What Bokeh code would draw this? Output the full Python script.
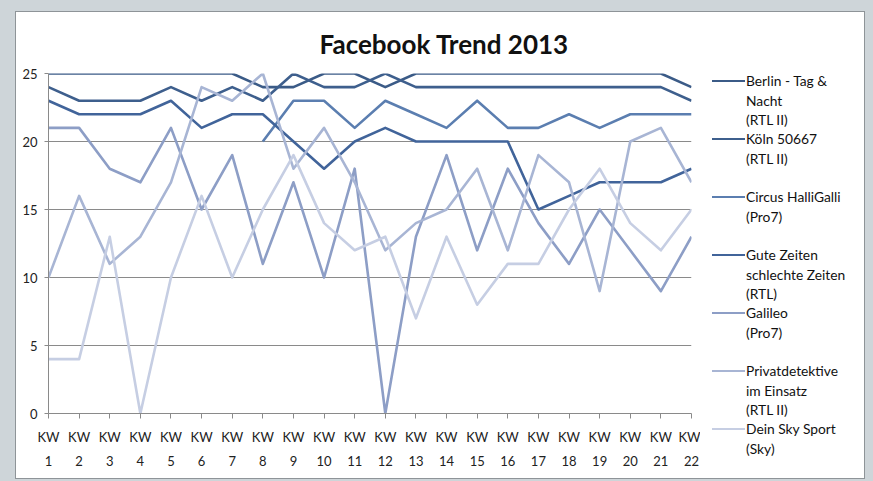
import numpy as np
from bokeh.plotting import figure
from bokeh.models import Range1d, FixedTicker, LinearAxis, Div
from bokeh.layouts import row
from bokeh.embed import file_html
from bokeh.resources import INLINE

# ---------------- data ----------------
weeks = list(range(1, 23))
week_numbers = [str(w) for w in weeks]
week_prefix = "KW"
y_ticks = [0, 5, 10, 15, 20, 25]
nan = float("nan")

berlin = [25, 25, 25, 25, 25, 25, 25, 24, 24, 25, 25, 24, 25, 25, 25, 25, 25, 25, 25, 25, 25, 24]
koeln = [24, 23, 23, 23, 24, 23, 24, 23, 25, 24, 24, 25, 24, 24, 24, 24, 24, 24, 24, 24, 24, 23]
circus = [nan, nan, nan, nan, nan, nan, nan, 20, 23, 23, 21, 23, 22, 21, 23, 21, 21, 22, 21, 22, 22, 22]
gzsz = [23, 22, 22, 22, 23, 21, 22, 22, 20, 18, 20, 21, 20, 20, 20, 20, 15, 16, 17, 17, 17, 18]
galileo = [21, 21, 18, 17, 21, 15, 19, 11, 17, 10, 18, 0, 13, 19, 12, 18, 14, 11, 15, 12, 9, 13]
privat = [10, 16, 11, 13, 17, 24, 23, 25, 18, 21, 17, 12, 14, 15, 18, 12, 19, 17, 9, 20, 21, 17]
sky = [4, 4, 13, 0, 10, 16, 10, 15, 19, 14, 12, 13, 7, 13, 8, 11, 11, 15, 18, 14, 12, 15]

series = [berlin, koeln, circus, gzsz, galileo, privat, sky]
legend_texts = [
    ["Berlin - Tag &", "Nacht", "(RTL II)"],
    ["Köln 50667", "(RTL II)"],
    ["Circus HalliGalli", "(Pro7)"],
    ["Gute Zeiten", "schlechte Zeiten", "(RTL)"],
    ["Galileo", "(Pro7)"],
    ["Privatdetektive", "im Einsatz", "(RTL II)"],
    ["Dein Sky Sport", "(Sky)"],
]
title_text = "Facebook Trend 2013"

# ---------------- style ----------------
colors = ["#3b5b87", "#3e5f8d", "#5b7eb0", "#41649a", "#8d9ec6", "#a8b5d4", "#c6cee3"]
FONT = "Lato"
AXIS_GRAY = "#8a8a8a"

# page geometry (body margin is 0 in the bokeh template)
FIG_X0, FIG_Y0 = 16, 12
FRAME_L, FRAME_R, FRAME_T, FRAME_B = 48, 691, 73, 413
SPLIT = 700
RIGHT = 864
H = 466

main_w = SPLIT - FIG_X0
p = figure(width=main_w, height=H, output_backend="svg", toolbar_location=None,
           x_range=Range1d(1, 22), y_range=Range1d(0, 25),
           min_border_left=FRAME_L - FIG_X0, min_border_right=SPLIT - FRAME_R,
           min_border_top=FRAME_T - FIG_Y0, min_border_bottom=H - (FRAME_B - FIG_Y0))
p.background_fill_color = "white"
p.border_fill_color = "white"
p.outline_line_color = None
p.xgrid.grid_line_color = None
p.ygrid.grid_line_color = AXIS_GRAY
p.ygrid.ticker = FixedTicker(ticks=y_ticks)

for vals, col in zip(series, colors):
    p.line(weeks, vals, line_color=col, line_width=2.6, line_join="round")

# title
p.title.text = title_text
p.title.align = "left"
p.title.offset = 319 - FRAME_L
p.title.standoff = 27
p.title.text_font = FONT
p.title.text_font_style = "bold"
p.title.text_font_size = "26px"
p.title.text_color = "#111111"

# y axis
p.yaxis.ticker = FixedTicker(ticks=y_ticks)
p.yaxis.axis_line_color = AXIS_GRAY
p.yaxis.major_tick_line_color = AXIS_GRAY
p.yaxis.major_tick_out = 4
p.yaxis.major_tick_in = 0
p.yaxis.minor_tick_line_color = None
p.yaxis.major_label_standoff = 7
p.yaxis.major_label_text_font = FONT
p.yaxis.major_label_text_font_size = "13px"
p.yaxis.major_label_text_color = "#222222"

# x axis: "KW" row
xa = p.xaxis[0]
xa.ticker = FixedTicker(ticks=weeks)
xa.major_label_overrides = {w: week_prefix for w in weeks}
xa.axis_line_color = AXIS_GRAY
xa.major_tick_line_color = AXIS_GRAY
xa.major_tick_out = 5
xa.major_tick_in = 0
xa.minor_tick_line_color = None
xa.major_label_standoff = 10
xa.major_label_text_font = FONT
xa.major_label_text_font_size = "13px"
xa.major_label_text_color = "#222222"

# x axis: number row
xb = LinearAxis(ticker=FixedTicker(ticks=weeks))
xb.major_label_overrides = {w: s for w, s in zip(weeks, week_numbers)}
xb.axis_line_color = None
xb.major_tick_line_color = None
xb.minor_tick_line_color = None
xb.major_tick_out = 0
xb.major_tick_in = 0
xb.major_label_standoff = 8
xb.major_label_text_font = FONT
xb.major_label_text_font_size = "13px"
xb.major_label_text_color = "#222222"
p.add_layout(xb, "below")

# ---------------- legend panel (HTML) ----------------
entry_y0, entry_step, line_step = 81, 58, 19.5
sample_x0, sample_x1, text_x = 712, 745, 746
parts = ['<div style="position:relative;width:%dpx;height:%dpx;background:white;">' % (RIGHT - SPLIT, H)]
for i, (lines, col) in enumerate(zip(legend_texts, colors)):
    y0 = entry_y0 + entry_step * i - FIG_Y0
    parts.append('<div style="position:absolute;left:%dpx;top:%.1fpx;width:%dpx;height:2.6px;background:%s;"></div>'
                 % (sample_x0 - SPLIT, y0 - 1.3, sample_x1 - sample_x0, col))
    label_html = "<br>".join(l.replace("&", "&amp;") for l in lines)
    parts.append('<div style="position:absolute;left:%dpx;top:%.2fpx;font-family:%s;font-size:13.8px;'
                 'line-height:%.1fpx;color:#111111;white-space:nowrap;">%s</div>'
                 % (text_x - SPLIT, y0 - line_step / 2, FONT, line_step, label_html))
parts.append('</div>')
legend_div = Div(text="".join(parts), width=RIGHT - SPLIT, height=H, margin=0,
                 styles={"background": "white"})

layout = row(p, legend_div, margin=(FIG_Y0, 0, 0, FIG_X0), spacing=0,
             styles={"box-shadow": "0 0 0 1px #8e9498", "background": "white"})

html = file_html(layout, INLINE)
html = html.replace("</head>", "<style>html,body{background:#ced5d9;overflow:hidden;}</style></head>")
open("out.html", "w").write(html)
